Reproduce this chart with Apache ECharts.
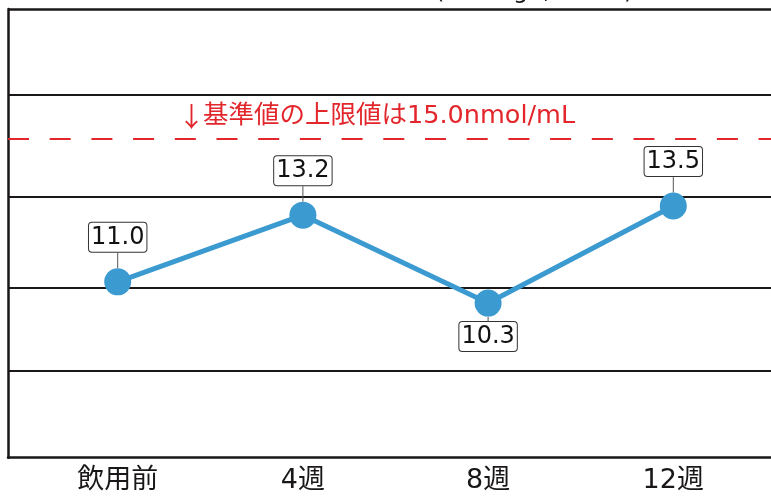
<!DOCTYPE html>
<html>
<head>
<meta charset="utf-8">
<script src="https://cdn.jsdelivr.net/npm/echarts@6/dist/echarts.min.js"></script>
<style>
  html, body { margin: 0; padding: 0; background: #fff; }
  #chart { width: 771px; height: 498px; }
</style>
</head>
<body>
<div id="chart"></div>
<script>
  // values
  const categories = ['飲用前', '4週', '8週', '12週'];
  const values = [11.0, 13.2, 10.3, 13.5];
  const labelSides = ['top', 'top', 'bottom', 'top'];
  const gridLineValues = [17.16, 13.81, 10.81, 8.06];
  const limitValue = 15.73;
  const limitArrow = '↓';
  const limitText = '基準値の上限値は15.0nmol/mL';
  const titleText = '(Average, n=10)';

  const FONT = "'DejaVu Sans', 'Noto Sans CJK JP', sans-serif";
  const CJK = "'Noto Sans CJK JP', sans-serif";
  const LINE_COLOR = '#3b9ad0';
  const INK = '#1a1718';
  const RED = '#e2262b';

  document.addEventListener('DOMContentLoaded', () => {
    let chart = echarts.init(document.getElementById('chart'));

    let yRange = { min: 5.2, max: 20 };
    let frameLine = { show: true, lineStyle: { color: INK, width: 2.5 } };
    let hidden = { axisTick: { show: false }, axisLabel: { show: false }, splitLine: { show: false } };

    let option = {
      animation: false,
      title: {
        text: titleText,
        left: 430,
        top: -25,
        textStyle: { fontSize: 24, fontWeight: 'normal', color: INK, fontFamily: FONT }
      },
      grid: [
        { left: 25.1, right: 5.1, top: 9, bottom: 40.3 },
        { left: 8, right: 0, top: 9, bottom: 40.3 }
      ],
      xAxis: [
        {
          type: 'category',
          gridIndex: 0,
          data: categories,
          boundaryGap: true,
          axisLine: { show: false },
          axisTick: { show: false },
          axisLabel: { fontSize: 27, color: INK, margin: 10, fontFamily: FONT }
        },
        { type: 'value', gridIndex: 1, min: 0, max: 1, axisLine: frameLine, ...hidden }
      ],
      yAxis: [
        { type: 'value', gridIndex: 0, min: yRange.min, max: yRange.max, show: false },
        { type: 'value', gridIndex: 1, min: yRange.min, max: yRange.max, axisLine: frameLine, ...hidden }
      ],
      series: [
        {
          type: 'line',
          xAxisIndex: 1,
          yAxisIndex: 1,
          data: [],
          silent: true,
          markLine: {
            silent: true,
            symbol: 'none',
            animation: false,
            label: { show: false },
            data: [{
              yAxis: yRange.max,
              lineStyle: { color: INK, width: 2.5, type: 'solid' }
            }].concat(gridLineValues.map(v => ({
              yAxis: v,
              lineStyle: { color: INK, width: 2, type: 'solid' }
            }))).concat([{
              yAxis: limitValue,
              lineStyle: { color: RED, width: 2, type: [21, 20.7] }
            }])
          }
        },
        {
          type: 'line',
          xAxisIndex: 0,
          yAxisIndex: 0,
          z: 5,
          data: values.map((v, i) => ({ value: v, label: { position: labelSides[i] } })),
          symbol: 'circle',
          symbolSize: 27,
          itemStyle: { color: LINE_COLOR },
          lineStyle: { color: LINE_COLOR, width: 5 },
          label: {
            show: true,
            distance: 2,
            formatter: params => params.value.toFixed(1),
            fontSize: 24,
            lineHeight: 26,
            fontFamily: FONT,
            color: '#111',
            backgroundColor: '#fff',
            borderColor: '#333',
            borderWidth: 1,
            borderRadius: 3,
            padding: [2, 2, 1, 2]
          },
          labelLayout: params => ({
            dy: labelSides[params.dataIndex] === 'top' ? -14.5 : 3.5
          }),
          labelLine: {
            show: true,
            lineStyle: { color: '#555', width: 1 }
          }
        }
      ],
      graphic: [
        {
          type: 'text',
          left: 178,
          top: 103,
          style: { text: limitArrow, fill: RED, font: '27px ' + CJK }
        },
        {
          type: 'text',
          left: 203,
          top: 104,
          style: { text: limitText, fill: RED, font: '25.5px ' + FONT }
        }
      ]
    };

    chart.setOption(option);
  });
</script>
</body>
</html>
